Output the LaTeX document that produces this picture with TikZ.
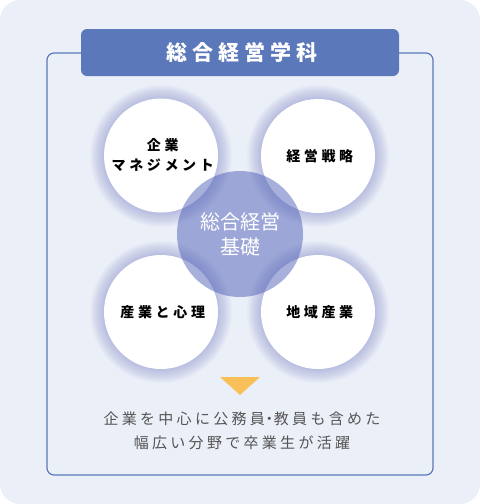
\documentclass[tikz,border=0pt]{standalone}
\usepackage{fontspec}
\setmainfont{Noto Sans CJK JP}
\usepackage{tikz}

\definecolor{bgpale}{HTML}{EBEFF8}
\definecolor{mainblue}{HTML}{5A78BA}
\definecolor{glowblue}{HTML}{7C84CC}
\definecolor{corefill}{HTML}{5060B8}
\definecolor{arrowyel}{HTML}{F9C05A}
\definecolor{textgray}{HTML}{555555}

\begin{document}
\begin{tikzpicture}[x=1pt,y=-1pt,
  field/.style={circle,fill=white,minimum size=114pt,inner sep=0pt,align=center,
    font=\bfseries\fontsize{14}{20}\selectfont\addfontfeatures{LetterSpace=26}},
  core/.style={circle,fill=corefill,fill opacity=0.5,text opacity=1,text=white,
    minimum size=126pt,inner sep=0pt,align=center,font=\fontsize{20}{25}\selectfont}]
  \useasboundingbox (0,0) rectangle (480,504);
  \fill[bgpale,rounded corners=20pt] (0,0) rectangle (480,504);
  \draw[mainblue,line width=1.2pt,rounded corners=7pt] (47,53) rectangle (433,475);
  \node[fill=mainblue,rounded corners=6pt,minimum width=318pt,minimum height=47pt,
    text=white,font=\bfseries\fontsize{21}{24}\selectfont\addfontfeatures{LetterSpace=24}]
    (title) at (240,52.5) {\hspace*{4pt}総合経営学科};
  % soft halo behind the four fields
  \foreach \cx/\cy in {161/156,318/156,161/312,318/312}
    \foreach \r in {58,...,71}
      \fill[glowblue,fill opacity=0.036] (\cx,\cy) circle[radius=\r pt];
  \node[field] (kigyo)   at (161,155.5) {\hspace*{3.5pt}企業\\\hspace*{3.5pt}マネジメント};
  \node[field] (senryak) at (318,156) {\hspace*{3.5pt}経営戦略};
  \node[field] (shinri)  at (161,312) {\hspace*{3.5pt}産業と心理};
  \node[field] (chiiki)  at (318,312) {\hspace*{3.5pt}地域産業};
  \node[core]  (kiso)    at (240,234) {総合経営\\基礎};
  \fill[arrowyel] (220,377) -- (260,377) -- (240,395) -- cycle;
  \node[text=textgray,align=center,font=\fontsize{15}{24}\selectfont\addfontfeatures{LetterSpace=22}]
    (result) at (242,431) {企業を中心に公務員\hspace{-3pt}・\hspace{-3pt}教員も含めた\\幅広い分野で卒業生が活躍};
\end{tikzpicture}
\end{document}
